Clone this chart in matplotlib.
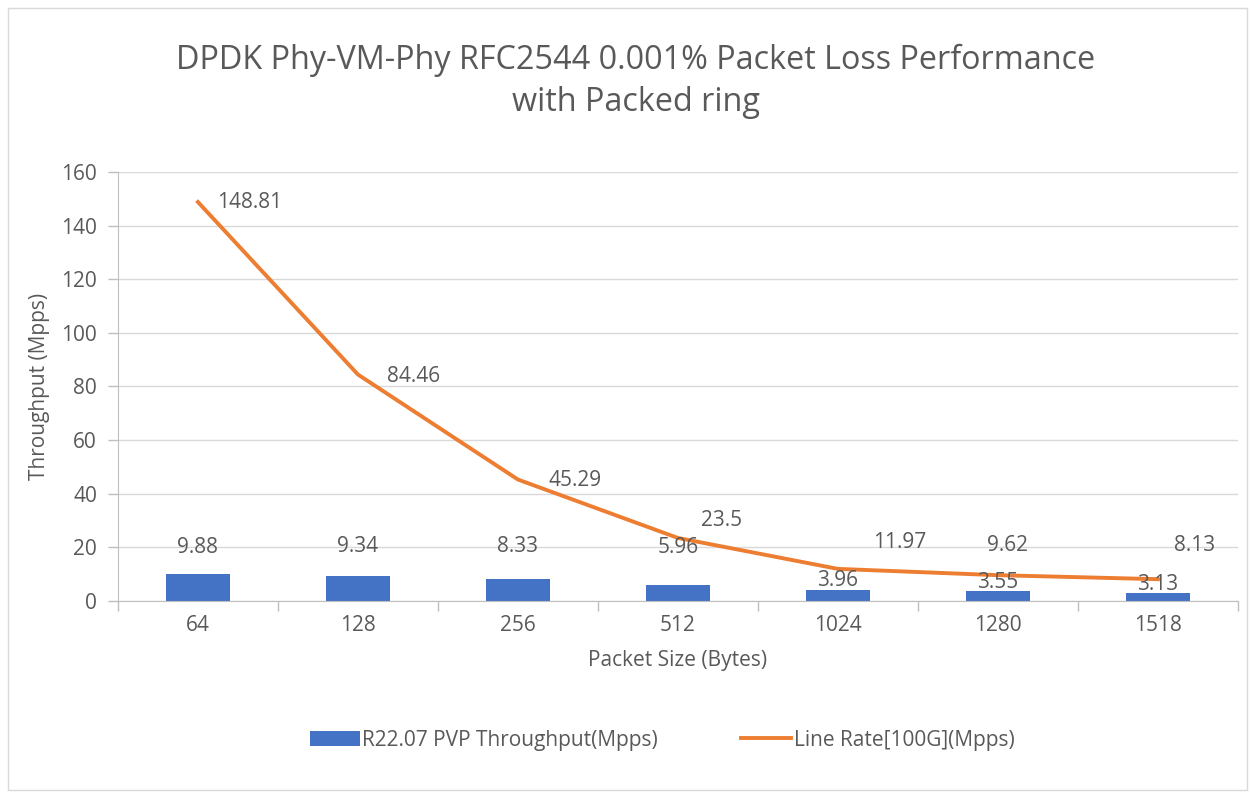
import matplotlib
matplotlib.use("Agg")
import matplotlib.pyplot as plt
from matplotlib.patches import Rectangle
import numpy as np

plt.rcParams['font.family'] = ['Open Sans', 'DejaVu Sans']

packet_sizes = ['64', '128', '256', '512', '1024', '1280', '1518']
pvp_throughput = [9.88, 9.34, 8.33, 5.96, 3.96, 3.55, 3.13]
line_rate = [148.81, 84.46, 45.29, 23.5, 11.97, 9.62, 8.13]

# label offsets in pixels (manually moved labels in the original)
line_label_dx = [52, 56, 57, 44, 62, 10, 37]
line_label_dy = [0, -2, -1, 17, 26, 30, 34]
bar_label_dy = [27, 29, 32, 38, 10, 9, 8]

BLUE = '#4472c4'
ORANGE = '#ed7d31'
GREY = '#595959'
FS = 15

fig = plt.figure(figsize=(12.52, 7.96), dpi=100)
fig.patches.append(Rectangle((0.006, 0.008), 0.99, 0.982, transform=fig.transFigure,
                             fill=False, edgecolor='#d9d9d9', linewidth=1))
ax = fig.add_axes([0.0942, 0.245, 0.8946, 0.5389])

x = np.arange(len(packet_sizes))
bars = ax.bar(x, pvp_throughput, width=0.4, color=BLUE, zorder=2,
              label='R22.07 PVP Throughput(Mpps)')
line, = ax.plot(x, line_rate, color=ORANGE, linewidth=2.8, zorder=3,
                label='Line Rate[100G](Mpps)')

px = 0.72  # points per pixel at 100 dpi
for i, v in enumerate(pvp_throughput):
    ax.annotate(f'{v:g}', (x[i], v), xytext=(0, bar_label_dy[i] * px),
                textcoords='offset points', ha='center', va='center',
                fontsize=FS, color=GREY, zorder=4)
for i, v in enumerate(line_rate):
    ax.annotate(f'{v:g}', (x[i], v), xytext=(line_label_dx[i] * px, line_label_dy[i] * px),
                textcoords='offset points', ha='center', va='center',
                fontsize=FS, color=GREY, zorder=4)

ax.set_xlim(-0.5, len(packet_sizes) - 0.5)
ax.set_ylim(0, 160)
ax.set_yticks(range(0, 161, 20))
ax.set_xticks(x)
ax.set_xticklabels(packet_sizes)
ax.set_xticks(np.arange(-0.5, len(packet_sizes)), minor=True)
ax.tick_params(axis='x', which='major', length=0, pad=10, labelsize=FS, labelcolor=GREY)
ax.tick_params(axis='x', which='minor', length=7, color='#bfbfbf', width=1)
ax.tick_params(axis='y', length=7, color='#bfbfbf', width=1, pad=8,
               labelsize=FS, labelcolor=GREY)
ax.grid(axis='y', color='#d9d9d9', linewidth=1, zorder=0)
ax.set_axisbelow(True)
for s in ['top', 'right']:
    ax.spines[s].set_visible(False)
ax.spines['left'].set_color('#bfbfbf')
ax.spines['bottom'].set_color('#bfbfbf')

ax.set_xlabel('Packet Size (Bytes)', fontsize=FS, color=GREY, labelpad=10)
ax.set_ylabel('Throughput (Mpps)', fontsize=FS, color=GREY, labelpad=8)

fig.text(0.508, 0.898, 'DPDK Phy-VM-Phy RFC2544 0.001% Packet Loss Performance\nwith Packed ring',
         ha='center', va='center', fontsize=23.3, color=GREY, linespacing=1.34)

fig.legend(handles=[bars, line], loc='center', bbox_to_anchor=(0.529, 0.07), ncol=2,
           frameon=False, fontsize=FS, labelcolor=GREY, handlelength=2.4,
           handletextpad=0.1, columnspacing=4.0)

fig.savefig('out.png', dpi=100)
